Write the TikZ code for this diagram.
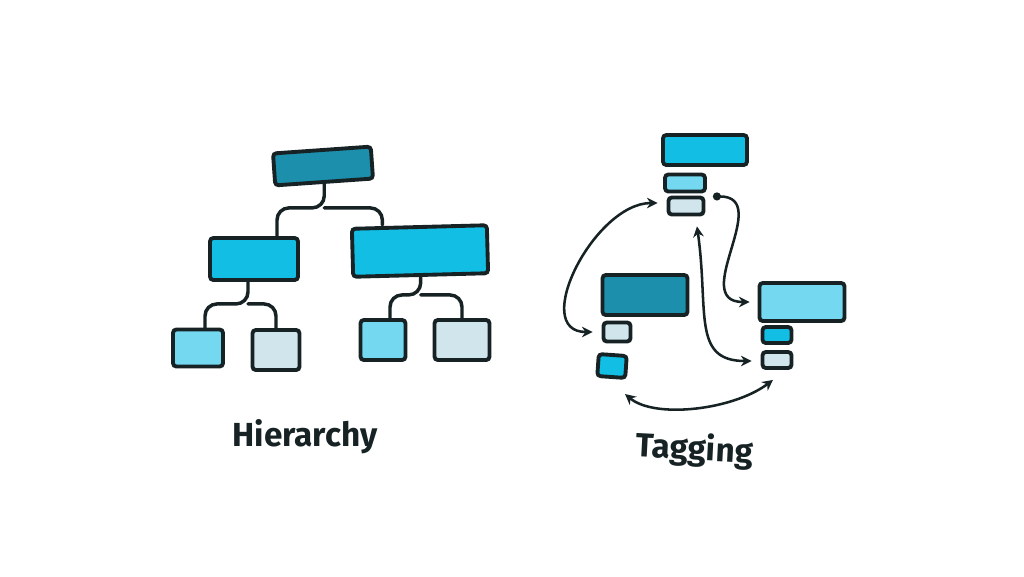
\documentclass[tikz,border=0pt]{standalone}
\usepackage{fontspec}
\setmainfont{Fira Sans}
\usetikzlibrary{arrows.meta,calc}

\definecolor{ink}{RGB}{22,34,36}
\definecolor{tealdeep}{RGB}{28,143,173}
\definecolor{cyanbright}{RGB}{18,190,228}
\definecolor{cyanlight}{RGB}{115,216,240}
\definecolor{palegrey}{RGB}{208,230,236}

\tikzset{every picture/.style={line width=0.75pt}}
\tikzset{
	box/.style={draw=ink, line width=2.9pt, rounded corners=2.5pt, inner sep=0pt},
	sz/.style 2 args={minimum width=#1*0.75pt, minimum height=#2*0.75pt},
	wire/.style={draw=ink, line width=2.6pt, rounded corners=9pt, line cap=round},
	tag/.style={draw=ink, line width=1.9pt, line cap=round},
	tips/.style={{Stealth[length=8pt,width=8pt]}-{Stealth[length=8pt,width=8pt]}},
	hand/.style={font=\fontsize{25}{29}\selectfont\bfseries, text=ink, inner sep=0pt}
}

\begin{document}
\begin{tikzpicture}[x=0.75pt,y=0.75pt,yscale=-1,xscale=1]
		\useasboundingbox (0,0) rectangle (1024,576);
		
		%Hierarchy: boxes
		\node[box, fill=tealdeep, sz={98}{32}, rotate=4] (root) at (323,166) {};
		\node[box, fill=cyanbright, sz={88}{42}] (midL) at (254,259) {};
		\node[box, fill=cyanbright, sz={135}{48}, rotate=1.5] (midR) at (420,251) {};
		\node[box, fill=cyanlight, sz={50}{37}] (leafA) at (198,348) {};
		\node[box, fill=palegrey, sz={47}{40}] (leafB) at (276,350) {};
		\node[box, fill=cyanlight, sz={45}{40}] (leafC) at (383,340) {};
		\node[box, fill=palegrey, sz={55}{40}] (leafD) at (462,340) {};
		
		%Hierarchy: links
		\draw[wire] (root.south) -- ++(0,24) coordinate (fork) -| ($(midL.north)+(23,0)$);
		\draw[wire] (fork) -| ($(midR.north)+(-37,0)$);
		\draw[wire] ($(midL.south)+(-6,0)$) -- ++(0,22) coordinate (forkL) -| ($(leafA.north)+(7,0)$);
		\draw[wire] (forkL) -| (leafB.north);
		\draw[wire] (midR.south) -- ++(0,18) coordinate (forkR) -| ($(leafC.north)+(7,0)$);
		\draw[wire] (forkR) -| (leafD.north);
		
		%Tagging: boxes and tags
		\node[box, fill=cyanbright, sz={84}{30}] (tTop) at (705,150) {};
		\node[box, fill=cyanlight, sz={40}{17}] (tTopA) at (685,183) {};
		\node[box, fill=palegrey, sz={35}{17}] (tTopB) at (686,206) {};
		\node[box, fill=tealdeep, sz={85}{40}] (tDark) at (645,295) {};
		\node[box, fill=palegrey, sz={27}{19}] (tDarkA) at (617,332) {};
		\node[box, fill=cyanbright, sz={28}{22}, rotate=-4] (tDarkB) at (612,366) {};
		\node[box, fill=cyanlight, sz={85}{38}] (tRight) at (802,302) {};
		\node[box, fill=cyanbright, sz={29}{16}] (tRightA) at (777,335) {};
		\node[box, fill=palegrey, sz={29}{16}] (tRightB) at (777,360) {};
		
		%Tagging: links
		\draw[tag, tips] ($(tTopB.west)+(-9,-3)$) to[out=180, in=180, looseness=1.12] ($(tDarkA.west)+(-9,0)$);
		\draw[tag, {Circle[length=6pt]}-{Stealth[length=8pt,width=8pt]}] ($(tTopA.south east)+(6,3)$) to[out=0, in=180, looseness=1.4] ($(tRight.west)+(-8,0)$);
		\draw[tag, tips] ($(tTopB.south)+(11,10)$) .. controls +(12,85) and +(-60,0) .. ($(tRightB.west)+(-9,1)$);
		\draw[tag, tips] ($(tDarkB.south east)+(-2,14)$) .. controls +(30,25) and +(-40,30) .. ($(tRightB.south)+(-4,10)$);
		
		%Labels
		\node[hand, anchor=base] (hierLabel) at (305,446) {Hierarchy};
		\node[hand, anchor=base, rotate=-3] (tagLabel) at (694,460) {Tagging};
		
	\end{tikzpicture}
\end{document}
